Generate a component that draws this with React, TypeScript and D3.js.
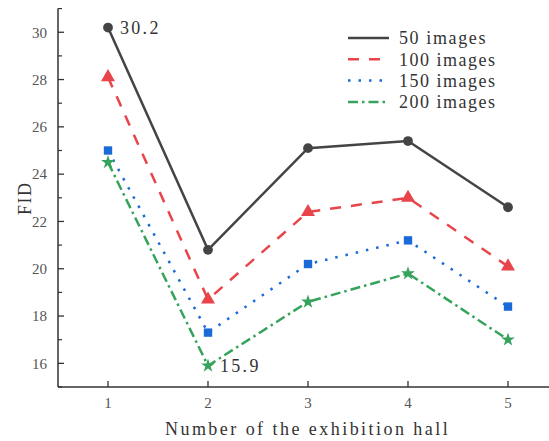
import React, { useEffect, useRef } from "react";
import * as d3 from "d3";

const halls = [1, 2, 3, 4, 5];
const seriesNames = ["50 images", "100 images", "150 images", "200 images"];
const fid50 = [30.2, 20.8, 25.1, 25.4, 22.6];
const fid100 = [28.1, 18.7, 22.4, 23.0, 20.1];
const fid150 = [25.0, 17.3, 20.2, 21.2, 18.4];
const fid200 = [24.5, 15.9, 18.6, 19.8, 17.0];
const yTicks = [16, 18, 20, 22, 24, 26, 28, 30];
const yMinor = [15, 17, 19, 21, 23, 25, 27, 29, 31];
const notes = [
  { series: 0, index: 0, text: "30.2" },
  { series: 3, index: 1, text: "15.9" },
];

const colors = ["#444444", "#e8444a", "#1a6ad8", "#36a35c"];
const dashes = ["none", "11,10", "2.5,8", "10,4,2.5,4"];
const symbols = [d3.symbolCircle, d3.symbolTriangle, d3.symbolSquare, d3.symbolStar];
const symbolSizes = [75, 85, 70, 60];

const W = 549;
const H = 441;

const App = () => {
  const svgRef = useRef<SVGSVGElement>(null);

  useEffect(() => {
    const svg = d3.select(svgRef.current);
    svg.selectAll("*").remove();

    const data = [fid50, fid100, fid150, fid200];
    const x = d3.scaleLinear().domain([0.5, 5.41]).range([58, 549]);
    const y = d3.scaleLinear().domain([15, 31]).range([387, 8.6]);
    const serif = "'Liberation Serif', 'DejaVu Serif', serif";
    const axisColor = "#333";
    // SimSun-like look: serif glyphs on a fixed advance of ~9.6px per char
    const adv = 9.6;

    svg.append("line").attr("x1", 58).attr("x2", 58).attr("y1", y(31)).attr("y2", y(15))
      .attr("stroke", axisColor).attr("stroke-width", 1.5);
    svg.append("line").attr("x1", 58).attr("x2", W).attr("y1", y(15)).attr("y2", y(15))
      .attr("stroke", axisColor).attr("stroke-width", 1.5);

    yTicks.forEach((t) => {
      svg.append("line").attr("x1", 58).attr("x2", 64).attr("y1", y(t)).attr("y2", y(t))
        .attr("stroke", axisColor).attr("stroke-width", 1.3);
      svg.append("text").attr("x", 47).attr("y", y(t)).attr("dy", "0.35em")
        .attr("text-anchor", "end").attr("font-family", serif).attr("font-size", 15)
        .attr("fill", "#555").text(t);
    });
    yMinor.forEach((t) => {
      svg.append("line").attr("x1", 58).attr("x2", 62).attr("y1", y(t)).attr("y2", y(t))
        .attr("stroke", axisColor).attr("stroke-width", 1.2);
    });
    halls.forEach((h) => {
      svg.append("line").attr("x1", x(h)).attr("x2", x(h)).attr("y1", y(15)).attr("y2", y(15) - 6)
        .attr("stroke", axisColor).attr("stroke-width", 1.3);
      svg.append("text").attr("x", x(h)).attr("y", 408).attr("text-anchor", "middle")
        .attr("font-family", serif).attr("font-size", 15).attr("fill", "#555").text(h);
    });

    const xLabel = "Number of the exhibition hall";
    svg.append("text").attr("x", 165).attr("y", 435)
      .attr("font-family", serif).attr("font-size", 18).attr("fill", "#333")
      .attr("textLength", xLabel.length * 9.75).attr("lengthAdjust", "spacing")
      .text(xLabel);
    svg.append("text").attr("transform", "translate(31,183) rotate(-90)")
      .attr("text-anchor", "end").attr("font-family", serif).attr("font-size", 18)
      .attr("textLength", 32).attr("lengthAdjust", "spacing")
      .attr("fill", "#333").text("FID");

    const line = d3.line<number>().x((_, i) => x(halls[i])).y((d) => y(d));
    data.forEach((vals, s) => {
      svg.append("path").attr("d", line(vals)).attr("fill", "none")
        .attr("stroke", colors[s]).attr("stroke-width", 2.5)
        .attr("stroke-dasharray", dashes[s]);
      const sym = d3.symbol().type(symbols[s]).size(symbolSizes[s]);
      vals.forEach((v, i) => {
        svg.append("path").attr("d", sym()).attr("transform", `translate(${x(halls[i])},${y(v)})`)
          .attr("fill", colors[s]);
      });
    });

    notes.forEach((n) => {
      const v = data[n.series][n.index];
      svg.append("text").attr("x", x(halls[n.index]) + 12).attr("y", y(v)).attr("dy", "0.35em")
        .attr("font-family", serif).attr("font-size", 18).attr("fill", "#333")
        .attr("textLength", n.text.length * adv).attr("lengthAdjust", "spacing")
        .text(n.text);
    });

    seriesNames.forEach((name, s) => {
      const ly = 38 + s * 21.3;
      svg.append("line").attr("x1", 348).attr("x2", 389).attr("y1", ly).attr("y2", ly)
        .attr("stroke", colors[s]).attr("stroke-width", 2.5)
        .attr("stroke-dasharray", dashes[s]);
      svg.append("text").attr("x", 399).attr("y", ly).attr("dy", "0.35em")
        .attr("font-family", serif).attr("font-size", 18).attr("fill", "#333")
        .attr("textLength", name.length * adv).attr("lengthAdjust", "spacing")
        .text(name);
    });
  }, []);

  return (
    <svg ref={svgRef} width={W} height={H}
      style={{ position: "absolute", left: 0, top: 0, background: "#fff" }} />
  );
};

export default App;
